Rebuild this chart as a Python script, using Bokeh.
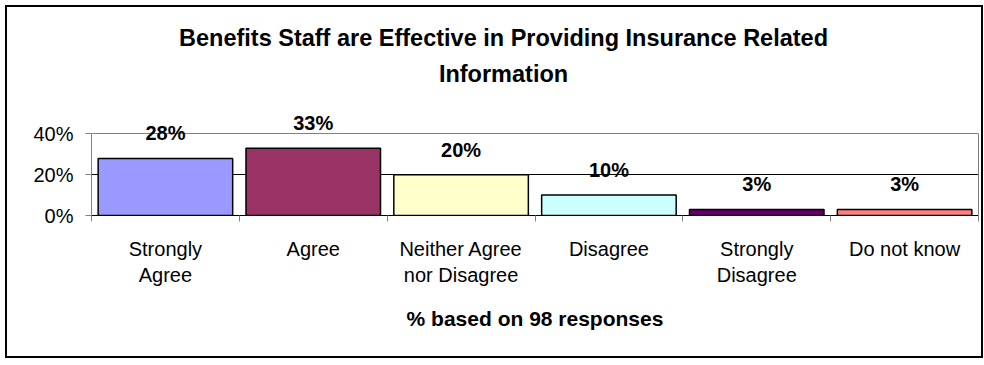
from bokeh.plotting import figure
from bokeh.models import (Range1d, FixedTicker, NumeralTickFormatter, ColumnDataSource, LabelSet,
                          Label, LinearAxis, Grid)
from bokeh.core.properties import value
from bokeh.embed import file_html
from bokeh.resources import INLINE

categories = ["Strongly\nAgree", "Agree", "Neither Agree\nnor Disagree", "Disagree",
              "Strongly\nDisagree", "Do not know"]
values = [0.28, 0.33, 0.20, 0.10, 0.03, 0.03]
colors = ["#9999FF", "#993366", "#FFFFCC", "#CCFFFF", "#660066", "#FF8080"]
y_ticks = [0, 0.2, 0.4]
title_lines = ["Benefits Staff are Effective in Providing Insurance Related", "Information"]
x_title = "% based on 98 responses"

FONT = "Liberation Sans"
n = len(categories)
centers = [i + 0.5 for i in range(n)]
boundaries = list(range(n + 1))
labels = [f"{round(v * 100)}%" for v in values]

src = ColumnDataSource(dict(x=centers, top=values, color=colors, label=labels))

# frame extends above the 40% line so that the title and value labels are not clipped
p = figure(width=978, height=353, x_range=Range1d(0, n), y_range=Range1d(0, 1.0),
           output_backend="svg", toolbar_location=None, title_location=None,
           min_border_left=84, min_border_right=7, min_border_top=4, min_border_bottom=145)
p.styles = {"border": "2px solid #000000", "margin-left": "5px", "margin-top": "5px"}
p.background_fill_color = "white"
p.border_fill_color = "white"
p.outline_line_color = None

p.vbar(x="x", top="top", bottom=0, width=0.91, fill_color="color", line_color="black",
       line_width=1.5, source=src)

# x axis
xa = p.xaxis[0]
xa.ticker = FixedTicker(ticks=centers, minor_ticks=boundaries)
xa.major_label_overrides = {c: lab for c, lab in zip(centers, categories)}
xa.major_tick_line_color = None
xa.major_tick_out = 6
xa.major_tick_in = 0
xa.minor_tick_line_color = "#808080"
xa.minor_tick_out = 6
xa.minor_tick_in = 0
xa.axis_line_color = "black"
xa.major_label_text_font = FONT
xa.major_label_text_font_size = "20px"
xa.major_label_text_color = "black"
xa.major_label_standoff = 16
xa.axis_label = x_title
xa.axis_label_text_font = FONT
xa.axis_label_text_font_style = "bold"
xa.axis_label_text_font_size = "21px"
xa.axis_label_text_color = "black"
xa.axis_label_standoff = 18

# y axis
ya = p.yaxis[0]
ya.bounds = (y_ticks[0], y_ticks[-1])
ya.ticker = FixedTicker(ticks=y_ticks, minor_ticks=[])
ya.formatter = NumeralTickFormatter(format="0%")
ya.axis_line_color = "#808080"
ya.major_tick_line_color = "#808080"
ya.major_tick_out = 6
ya.major_tick_in = 0
ya.minor_tick_line_color = None
ya.major_label_text_font = FONT
ya.major_label_text_font_size = "20px"
ya.major_label_text_color = "black"
ya.major_label_standoff = 12

# right border of the plot area
ra = LinearAxis(bounds=(y_ticks[0], y_ticks[-1]), ticker=FixedTicker(ticks=[], minor_ticks=[]),
                axis_line_color="#808080", major_tick_line_color=None, minor_tick_line_color=None,
                major_tick_out=0, minor_tick_out=0, major_label_standoff=0)
p.add_layout(ra, "right")

p.xgrid.visible = False
p.ygrid.ticker = FixedTicker(ticks=y_ticks[1:-1])
p.ygrid.grid_line_color = "black"
p.ygrid.grid_line_width = 1
p.add_layout(Grid(dimension=1, ticker=FixedTicker(ticks=[y_ticks[-1]]),
                  grid_line_color="#808080", grid_line_width=1))

p.add_layout(LabelSet(x="x", y="top", text="label", source=src, y_offset=25,
                      text_align="center", text_baseline="middle",
                      text_font=value(FONT), text_font_size=value("20px"),
                      text_font_style="bold", text_color="black"))

for i, line in enumerate(title_lines):
    p.add_layout(Label(x=412, y=178 - 36 * i, x_units="screen", y_units="screen", text=line,
                       text_align="center", text_baseline="middle", text_font=FONT,
                       text_font_size="23.5px", text_font_style="bold", text_color="black"))

open("out.html", "w").write(file_html(p, INLINE))
